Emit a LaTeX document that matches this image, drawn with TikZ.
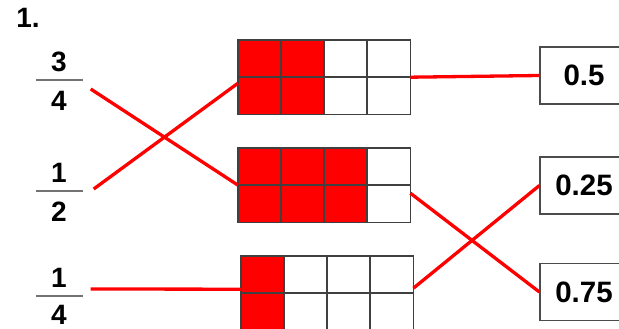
\documentclass[tikz,border=0pt]{standalone}
\usepackage{fontspec}
\setmainfont{Liberation Sans}
\newcommand\drawgrid[4]{%
  \node[gridframe] (#1) at (#2,#3) {};
  \fill[red] (#2,#3) rectangle ({#2+#4*43},{#3+74});
  \foreach \c in {1,2,3} \draw[cell] ({#2+\c*43},#3) -- ({#2+\c*43},{#3+74});
  \draw[cell] (#2,{#3+37}) -- ({#2+172},{#3+37});
  \draw[cell] (#1.north west) rectangle (#1.south east);
}
\begin{document}
\begin{tikzpicture}[x=1pt,y=-1pt,
  num/.style={font=\bfseries\fontsize{28}{28}\selectfont, inner sep=0pt},
  fracbarnode/.style={fill=black!55, minimum width=47pt, minimum height=2pt, inner sep=0pt},
  link/.style={red, line width=3.3pt},
  cell/.style={draw=black!75, line width=1.2pt},
  valbox/.style={draw=black!70, line width=1.2pt, minimum width=88pt, minimum height=57pt, inner sep=0pt, font=\bfseries\fontsize{29.5}{29.5}\selectfont},
  gridframe/.style={minimum width=172pt, minimum height=74pt, inner sep=0pt, anchor=north west}
]
\useasboundingbox (0,0) rectangle (619,329);
\clip (0,0) rectangle (619,329);

\node[num] (title) at (28,18) {1.};

% fractions
\node[fracbarnode] (b34) at (59,80) {};
\node[num] (n34) at (59,61.5) {3};
\node[num] (d34) at (59,101) {4};

\node[fracbarnode] (b12) at (59,191) {};
\node[num] (n12) at (59,172.5) {1};
\node[num] (d12) at (59,211.5) {2};

\node[fracbarnode] (b14) at (59,296) {};
\node[num] (n14) at (59,277.5) {1};
\node[num] (d14) at (59,315) {4};

% grids
\drawgrid{g1}{238}{40}{2}
\drawgrid{g2}{238}{148}{3}
\drawgrid{g3}{241}{256}{1}

% value boxes
\node[valbox] (v05) at (584,75.5) {0.5};
\node[valbox] (v025) at (584,185.5) {0.25};
\node[valbox] (v075) at (584,292) {0.75};

% connectors
\draw[link] ([xshift=8pt,yshift=-9pt]b34.east) -- (g2.west);
\draw[link] ([xshift=11pt,yshift=2pt]b12.east) -- ([yshift=-6pt]g1.west);
\draw[link] ([xshift=8pt,yshift=7pt]b14.east) -- ([yshift=4pt]g3.west);

\draw[link] (g1.east) -- (v05.west);
\draw[link] ([yshift=-8pt]g2.east) -- (v075.west);
\draw[link] ([yshift=5pt]g3.east) -- (v025.west);
\end{tikzpicture}
\end{document}
